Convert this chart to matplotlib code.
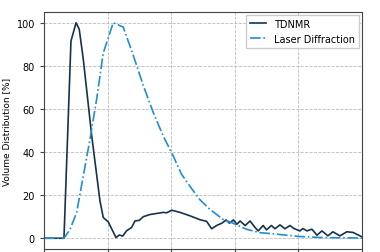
import numpy as np
import matplotlib.pyplot as plt

# x axis labels are cut off in the reference, x kept in arbitrary units (0..250)
tdnmr_x = [0, 15.7, 21.2, 25.2, 27.7, 30.9, 37.5, 44.0, 46.6, 50.5, 56.6, 59.2,
           61.9, 65.0, 68.9, 71.5, 74.9, 78.1, 83.3, 88.6, 93.8, 96.4, 100.4,
           106.9, 114.8, 122.6, 127.9, 131.8, 135.7, 139.9, 143.2, 145.8, 148.9,
           151.6, 154.2, 158.1, 162.0, 165.2, 168.4, 172.3, 174.9, 178.8, 181.6,
           185.5, 189.4, 193.4, 196.5, 201.2, 203.6, 206.7, 210.6, 214.6, 218.5,
           223.2, 227.1, 232.6, 238.1, 242.9, 248.4, 250]
tdnmr_y = [0, 0, 91.5, 100, 97, 83, 47.6, 17.3, 9.6, 7.6, 0.3, 1.5,
           1.0, 3.5, 5.0, 8.0, 8.3, 10.0, 11.0, 11.5, 12.0, 11.8, 13.0,
           12.0, 10.4, 8.6, 7.8, 4.4, 5.9, 7.0, 8.5, 7.0, 8.5,
           6.5, 8.0, 5.9, 8.0, 5.5, 3.4, 5.9, 3.9, 5.9, 4.4,
           6.2, 4.4, 5.9, 4.5, 3.4, 4.5, 3.4, 4.2, 1.4, 3.4,
           1.1, 3.0, 1.1, 3.0, 2.7, 1.1, 0.5]

laser_x = [0, 15.7, 20.4, 25.7, 30.9, 36.2, 41.4, 46.6, 50.5, 54.4, 62.3,
           70.1, 78.0, 85.8, 93.6, 101.5, 108.0, 114.5, 122.4, 130.2, 140.7,
           148.5, 159.0, 169.5, 182.6, 200.9, 219.3, 250]
laser_y = [0, 0, 4, 12, 29, 46, 64.6, 86, 93, 100, 98,
           85, 71, 58.5, 47.6, 38.3, 29.8, 24.3, 18, 13.5, 8.8,
           7.0, 4.2, 2.6, 1.9, 0.8, 0.3, 0.1]

fig = plt.figure(figsize=(3.8, 2.53), dpi=100)
ax = fig.add_axes([44/380, 3/253, 318/380, 237/253])

ax.plot(tdnmr_x, tdnmr_y, color="#17324d", lw=1.2, label="TDNMR")
ax.plot(laser_x, laser_y, color="#1f8fd0", lw=1.2, ls="-.", label="Laser Diffraction")

ax.set_xlim(0, 250)
ax.set_ylim(-5, 105)
ax.set_xticks(np.arange(0, 251, 50))
ax.set_yticks([0, 20, 40, 60, 80, 100])
ax.tick_params(labelsize=7, length=3, color="#444444")
# x tick labels fall outside the cropped reference image
ax.tick_params(axis="x", labelbottom=False)
ax.set_ylabel("Volume Distribution [%]", fontsize=6.5)
ax.grid(True, ls="--", color="#bbbbbb", lw=0.6)
for s in ax.spines.values():
    s.set_color("#444444")

ax.legend(loc="upper right", fontsize=7, frameon=True, framealpha=1.0,
          edgecolor="#cccccc", fancybox=False, borderpad=0.4,
          handlelength=1.7, borderaxespad=0.3)

fig.savefig("out.png", dpi=100)
